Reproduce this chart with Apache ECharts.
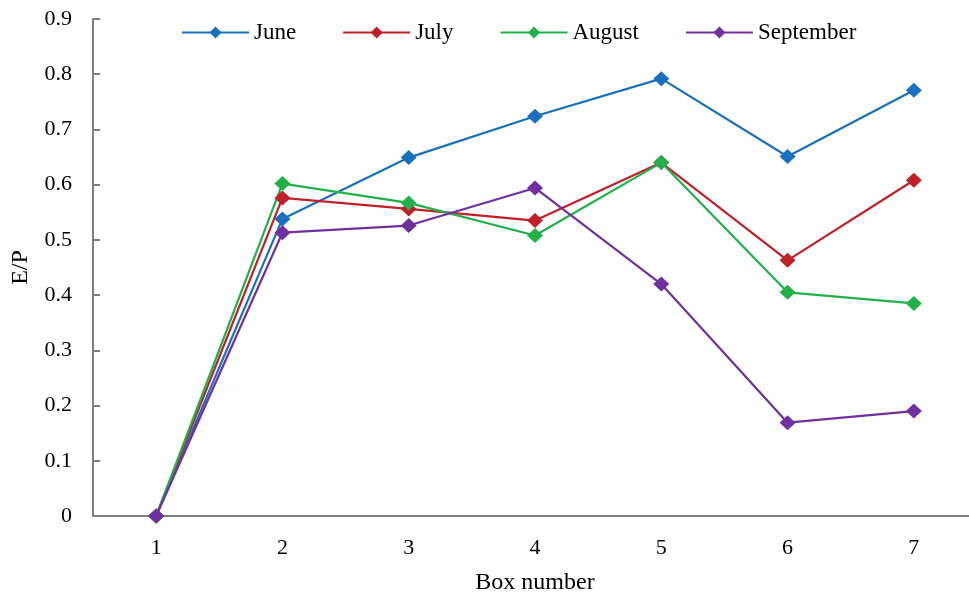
<!DOCTYPE html>
<html>
<head>
<meta charset="utf-8">
<script src="https://cdn.jsdelivr.net/npm/echarts@6/dist/echarts.min.js"></script>
<style>
html,body{margin:0;padding:0;background:#fff;overflow:hidden;}
#chart{width:990px;height:600px;}
</style>
</head>
<body>
<div id="chart"></div>
<script>
const categories = ['1', '2', '3', '4', '5', '6', '7'];
const seriesNames = ['June', 'July', 'August', 'September'];
const june = [0, 0.538, 0.649, 0.724, 0.792, 0.651, 0.771];
const july = [0, 0.576, 0.556, 0.535, 0.640, 0.463, 0.608];
const august = [0, 0.602, 0.567, 0.508, 0.640, 0.405, 0.385];
const september = [0, 0.513, 0.526, 0.594, 0.420, 0.169, 0.190];
const colors = ['#1a70bf', '#c0202a', '#22b04b', '#7030a0'];

const FONT = 'Liberation Serif';
const allData = [june, july, august, september];

const chart = echarts.init(document.getElementById('chart'), null, {renderer: 'canvas'});
chart.setOption({
  animation: false,
  backgroundColor: '#ffffff',
  color: colors,
  textStyle: {fontFamily: FONT, color: '#000'},
  legend: {
    left: 176,
    top: 16,
    itemWidth: 67,
    itemHeight: 15,
    itemGap: 46,
    textStyle: {fontFamily: FONT, fontSize: 23, color: '#000'},
    data: seriesNames
  },
  grid: {left: 93, top: 19, width: 884, height: 500, containLabel: false},
  xAxis: {
    type: 'category',
    data: categories,
    boundaryGap: true,
    name: 'Box number',
    nameLocation: 'middle',
    nameGap: 55,
    nameTextStyle: {fontFamily: FONT, fontSize: 24, color: '#000'},
    axisLine: {lineStyle: {color: '#7f7f7f', width: 2}},
    axisTick: {show: false},
    axisLabel: {fontFamily: FONT, fontSize: 22, color: '#000', margin: 21},
    splitLine: {show: false}
  },
  yAxis: {
    type: 'value',
    min: 0,
    max: 0.9,
    interval: 0.1,
    name: 'E/P',
    nameLocation: 'middle',
    nameGap: 60,
    nameTextStyle: {fontFamily: FONT, fontSize: 24, color: '#000'},
    axisLine: {show: true, lineStyle: {color: '#7f7f7f', width: 2}},
    axisTick: {show: true, inside: true, length: 7, lineStyle: {color: '#7f7f7f', width: 2}},
    axisLabel: {fontFamily: FONT, fontSize: 22, color: '#000', margin: 21},
    splitLine: {show: false}
  },
  series: seriesNames.map((name, i) => ({
    name: name,
    type: 'line',
    data: allData[i],
    symbol: 'diamond',
    symbolSize: [16, 15],
    lineStyle: {width: 2.2, color: colors[i]},
    itemStyle: {color: colors[i]}
  }))
});
</script>
</body>
</html>
